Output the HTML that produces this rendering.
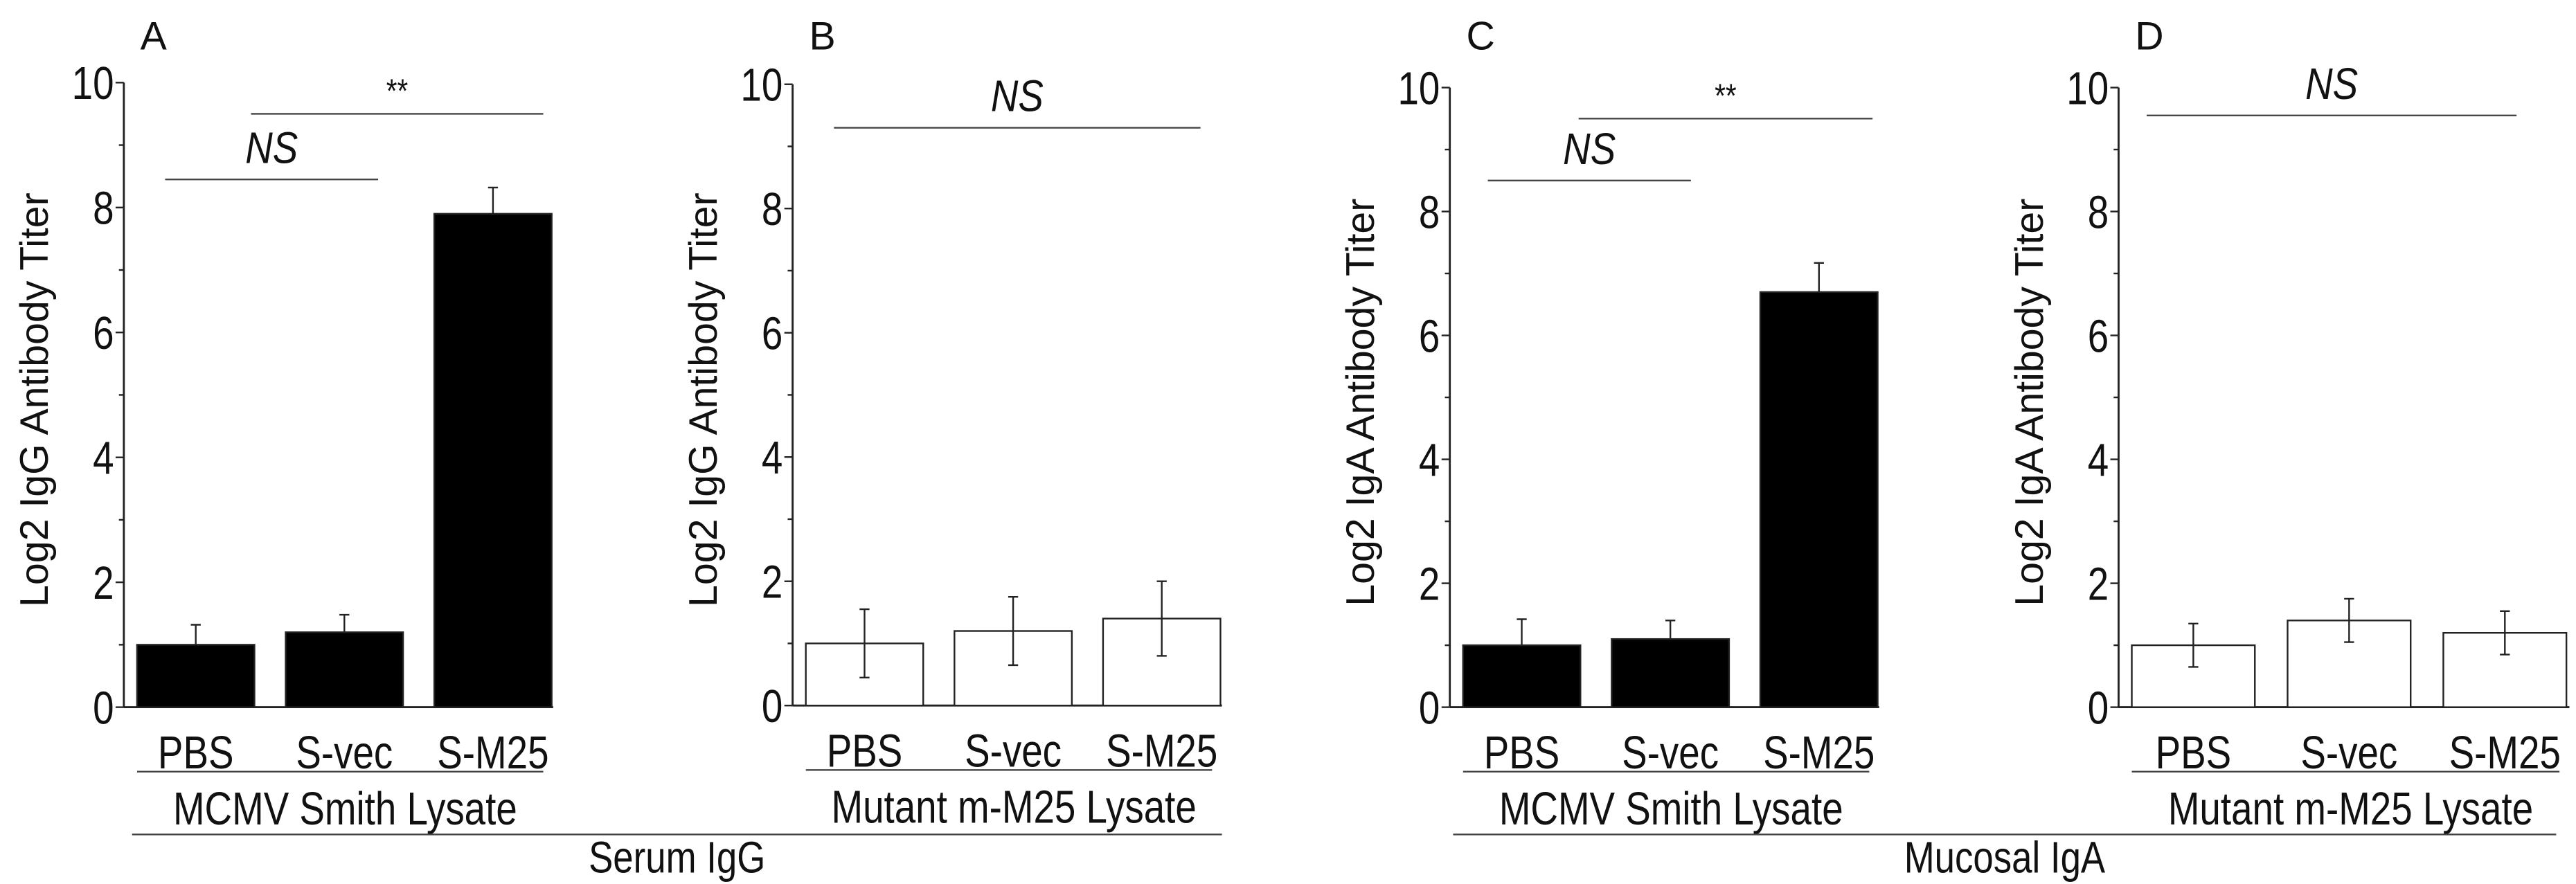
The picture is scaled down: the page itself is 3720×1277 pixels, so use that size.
<!DOCTYPE html>
<html><head><meta charset="utf-8"><style>
html,body{margin:0;padding:0;background:#fff;}
svg{display:block;}
text{font-family:"Liberation Sans",sans-serif;fill:#111;}
</style></head><body>
<svg id="fig" width="3720" height="1277" viewBox="0 0 1560 535" preserveAspectRatio="none" xmlns="http://www.w3.org/2000/svg"></svg>
<script>
const categories = ["PBS","S-vec","S-M25"];
const valuesA = [1.0, 1.2, 7.9];
const errorsA = [0.32, 0.28, 0.42];
const valuesB = [1.0, 1.2, 1.4];
const errorsB = [0.55, 0.55, 0.6];
const valuesC = [1.0, 1.1, 6.7];
const errorsC = [0.42, 0.3, 0.47];
const valuesD = [1.0, 1.4, 1.2];
const errorsD = [0.35, 0.35, 0.35];
const yTicks = [0, 2, 4, 6, 8, 10];

const NS = "http://www.w3.org/2000/svg";
const svg = document.getElementById('fig');
function mk(tag, attrs, parent){
  const e = document.createElementNS(NS, tag);
  for (const k in attrs) e.setAttribute(k, attrs[k]);
  (parent||svg).appendChild(e);
  return e;
}
const panels = [
  {id:'a', letter:'A', ax:75, right:335, top:50, zero:428, vals:valuesA, errs:errorsA, fill:'#000', title:'Log2 IgG Antibody Titer', group:'MCMV Smith Lysate',
   sig:[{x1:100,x2:229,v:8.45,t:'NS',it:true},{x1:152,x2:329,v:9.5,t:'**',it:false}]},
  {id:'b', letter:'B', ax:480, right:740, top:51, zero:427, vals:valuesB, errs:errorsB, fill:'#fff', title:'Log2 IgG Antibody Titer', group:'Mutant m-M25 Lysate',
   sig:[{x1:505,x2:727,v:9.3,t:'NS',it:true}]},
  {id:'c', letter:'C', ax:878, right:1138, top:53, zero:428, vals:valuesC, errs:errorsC, fill:'#000', title:'Log2 IgA Antibody Titer', group:'MCMV Smith Lysate',
   sig:[{x1:901,x2:1024,v:8.5,t:'NS',it:true},{x1:956,x2:1134,v:9.5,t:'**',it:false}]},
  {id:'d', letter:'D', ax:1283, right:1556, top:53, zero:428, vals:valuesD, errs:errorsD, fill:'#fff', title:'Log2 IgA Antibody Titer', group:'Mutant m-M25 Lysate',
   sig:[{x1:1300,x2:1524,v:9.55,t:'NS',it:true}]}
];
panels.forEach(p=>{
  const g = mk('g',{});
  
  
  const y = v => p.zero - (p.zero - p.top) * v / 10;
  const slot = (p.right - p.ax + 10) / 3;
  const bw = slot * 0.79;
  const bx = i => p.ax + 8 + i * slot;
  const L = mk('text',{x:p.ax+10,y:30,'font-size':24},g); L.textContent=p.letter;
  
  
  const ya = mk('line',{x1:p.ax,y1:p.top,x2:p.ax,y2:p.zero,stroke:'#222','stroke-width':1.2},g);
  
  
  const xa = mk('line',{x1:p.ax,y1:p.zero,x2:p.right,y2:p.zero,stroke:'#222','stroke-width':1.2},g);
  
  
  for (let v=1; v<10; v+=2) mk('line',{x1:p.ax-3,y1:y(v),x2:p.ax,y2:y(v),stroke:'#222','stroke-width':1},g);
  yTicks.forEach(v=>{
    mk('line',{x1:p.ax-5,y1:y(v),x2:p.ax,y2:y(v),stroke:'#222','stroke-width':1},g);
    const t = mk('text',{x:p.ax-6,y:y(v)+10,'font-size':28,'text-anchor':'end',transform:`translate(${p.ax-6},0) scale(0.82,1) translate(${-(p.ax-6)},0)`},g);
    t.textContent = v;
    
    
  });
  const yt = mk('text',{x:0,y:0,'font-size':24,'text-anchor':'middle',transform:`translate(${p.ax-46},${(p.top+p.zero)/2+3}) rotate(-90)`},g);
  yt.textContent = p.title;
  
  
  p.vals.forEach((v,i)=>{
    const x = bx(i);
    const r = mk('rect',{x:x,y:y(v),width:bw,height:p.zero-y(v),fill:p.fill,stroke:'#222','stroke-width':1},g);
    
    
    const cx = x + bw/2, e = p.errs[i];
    const lo = p.fill==='#000' ? v : v - e;
    const eb = mk('path',{d:`M${cx},${y(lo)}V${y(v+e)}M${cx-3},${y(v+e)}H${cx+3}`+(p.fill==='#000'?'':`M${cx-3},${y(v-e)}H${cx+3}`),stroke:'#222','stroke-width':1,fill:'none'},g);
    
    
    const c = mk('text',{x:cx,y:p.zero+37,'font-size':28,'text-anchor':'middle',transform:`translate(${cx},0) scale(0.82,1) translate(${-cx},0)`},g);
    c.textContent = categories[i];
    
    
  });
  const gl = mk('line',{x1:p.ax+8,y1:p.zero+39,x2:p.right-6,y2:p.zero+39,stroke:'#444','stroke-width':1},g);
  
  
  const gx = (p.ax+8+p.right)/2;
  const gt = mk('text',{x:gx,y:p.zero+71,'font-size':28,'text-anchor':'middle',transform:`translate(${gx},0) scale(0.82,1) translate(${-gx},0)`},g);
  gt.textContent = p.group;
  
  
  p.sig.forEach(s=>{
    const l = mk('line',{x1:s.x1,y1:y(s.v),x2:s.x2,y2:y(s.v),stroke:'#444','stroke-width':1},g);
    
    
    const sx=(s.x1+s.x2)/2;
    const t = mk('text',{x:sx,y:y(s.v)-(s.it?10:7),'font-size':s.it?27:20,'font-style':s.it?'italic':'normal','text-anchor':'middle',transform:`translate(${sx},0) scale(0.85,1) translate(${-sx},0)`},g);
    t.textContent = s.t;
    
    
  });
});
[{x1:80,x2:740,t:'Serum IgG',n:'serum-igg'},{x1:880,x2:1548,t:'Mucosal IgA',n:'mucosal-iga'}].forEach(o=>{
  const l = mk('line',{x1:o.x1,y1:505,x2:o.x2,y2:505,stroke:'#444','stroke-width':1});
  
  
  const cx=(o.x1+o.x2)/2;
  const t = mk('text',{x:cx,y:528,'font-size':27,'text-anchor':'middle',transform:`translate(${cx},0) scale(0.82,1) translate(${-cx},0)`});
  t.textContent=o.t;
  
  
});
</script>
</body></html>
